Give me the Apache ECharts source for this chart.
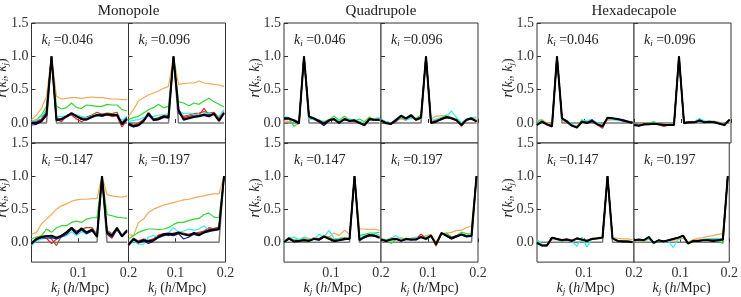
<!DOCTYPE html>
<html>
<head>
<meta charset="UTF-8" />
<title>r(ki,kj) multipoles</title>
<style>
  body { margin: 0; background: #fff; }
  #chart { width: 741px; height: 297px; }
</style>
</head>
<body>
<div id="chart"></div>
<script src="https://cdn.jsdelivr.net/npm/echarts@6/dist/echarts.min.js"></script>
<script>
// k_j bins (h/Mpc)
const kj = [0.006, 0.016, 0.026, 0.036, 0.046, 0.056, 0.066, 0.076, 0.086, 0.096,
            0.106, 0.116, 0.127, 0.137, 0.147, 0.157, 0.167, 0.177, 0.187, 0.197];
const kiLabels = ['0.046', '0.096', '0.147', '0.197'];
const groupNames = ['Monopole', 'Quadrupole', 'Hexadecapole'];
const xTicks = [0.1, 0.2];
const yTicks = [0, 0.5, 1, 1.5];

// ideal (diagonal) correlation
const delta = [
  [0,0,0,0,1,0,0,0,0,0,0,0,0,0,0,0,0,0,0,0],
  [0,0,0,0,0,0,0,0,0,1,0,0,0,0,0,0,0,0,0,0],
  [0,0,0,0,0,0,0,0,0,0,0,0,0,0,1,0,0,0,0,0],
  [0,0,0,0,0,0,0,0,0,0,0,0,0,0,0,0,0,0,0,1]
];

// ---- Monopole ----
const monoOrange = [
  [0.05,0.12,0.22,0.40,1.00,0.40,0.36,0.37,0.38,0.38,0.37,0.38,0.39,0.38,0.38,0.37,0.36,0.36,0.35,0.35],
  [0.10,0.20,0.33,0.38,0.42,0.45,0.48,0.52,0.55,1.00,0.58,0.59,0.60,0.60,0.63,0.60,0.59,0.58,0.57,0.55],
  [0.12,0.15,0.28,0.35,0.42,0.50,0.55,0.58,0.62,0.64,0.65,0.65,0.66,0.66,1.00,0.72,0.70,0.69,0.68,0.70],
  [0.12,0.10,0.30,0.35,0.45,0.50,0.53,0.56,0.58,0.60,0.62,0.64,0.65,0.67,0.69,0.70,0.72,0.73,0.73,1.00]
];
const monoGreen = [
  [0.02,0.05,0.12,0.25,1.00,0.25,0.21,0.23,0.30,0.23,0.22,0.27,0.26,0.25,0.25,0.28,0.27,0.27,0.20,0.18],
  [0.05,0.08,0.10,0.15,0.20,0.23,0.28,0.23,0.25,1.00,0.32,0.30,0.26,0.30,0.28,0.33,0.37,0.32,0.28,0.24],
  [0.05,0.08,0.10,0.20,0.15,0.22,0.25,0.25,0.30,0.32,0.30,0.35,0.37,0.37,1.00,0.42,0.40,0.38,0.37,0.36],
  [0.05,0.10,0.15,0.18,0.20,0.20,0.19,0.20,0.22,0.27,0.30,0.30,0.33,0.35,0.36,0.42,0.44,0.38,0.37,1.00]
];
const monoBrown = [
  [0.02,0.03,0.06,0.20,1.00,0.08,0.05,0.11,0.14,0.12,0.08,0.09,0.12,0.16,0.13,0.15,0.14,0.16,0.00,0.08],
  [0.00,-0.03,0.00,0.05,0.12,0.06,0.08,0.11,0.11,1.00,0.17,0.10,0.12,0.14,0.15,0.17,0.15,0.16,0.08,0.17],
  [0.00,0.06,0.09,0.10,0.05,-0.05,0.10,0.16,0.22,0.17,0.20,0.22,0.22,0.12,1.00,0.18,0.13,0.21,0.11,0.19],
  [-0.02,0.06,0.02,0.05,0.03,0.05,0.11,0.13,0.14,0.13,0.15,0.14,0.12,0.14,0.13,0.17,0.20,0.21,0.23,1.00]
];
const monoRed = [
  [0.00,0.02,0.05,0.18,1.00,0.06,0.02,0.10,0.12,0.06,0.02,0.06,0.10,0.12,0.10,0.12,0.10,0.10,-0.06,0.05],
  [-0.02,-0.04,-0.02,0.05,0.12,0.04,0.05,0.10,0.10,1.00,0.15,0.08,0.10,0.12,0.12,0.22,0.12,0.15,0.06,0.16],
  [-0.03,0.04,0.08,0.06,-0.02,0.05,0.10,0.14,0.20,0.14,0.18,0.14,0.20,0.10,1.00,0.12,0.06,0.20,0.10,0.16],
  [-0.03,0.04,0.01,0.04,0.02,0.05,0.10,0.12,0.10,0.14,0.14,0.12,0.12,0.13,0.15,0.17,0.22,0.20,0.22,1.00]
];
const monoCyan = [
  [0.03,0.04,0.10,0.18,1.00,0.10,0.10,0.11,0.13,0.12,0.10,0.07,0.11,0.10,0.12,0.13,0.12,0.10,0.04,0.10],
  [0.02,0.04,0.05,0.08,0.10,0.10,0.12,0.12,0.14,1.00,0.18,0.14,0.15,0.13,0.12,0.14,0.15,0.12,0.10,0.20],
  [-0.05,0.02,0.05,0.06,0.08,0.05,0.08,0.10,0.16,0.10,0.16,0.12,0.17,0.12,1.00,0.14,0.12,0.18,0.12,0.15],
  [-0.05,0.02,-0.03,-0.03,0.08,0.10,0.08,0.10,0.14,0.22,0.15,0.17,0.20,0.18,0.20,0.25,0.18,0.17,0.20,1.00]
];
const monoBlue = [
  [-0.03,-0.02,0.02,0.15,1.00,0.04,0.05,0.09,0.13,0.11,0.06,0.06,0.10,0.12,0.13,0.13,0.12,0.12,0.00,0.08],
  [-0.03,-0.06,-0.04,0.02,0.12,0.04,0.05,0.08,0.08,1.00,0.16,0.06,0.08,0.10,0.11,0.13,0.12,0.13,0.04,0.14],
  [-0.03,0.04,0.07,0.06,0.07,0.05,0.08,0.12,0.20,0.12,0.19,0.13,0.17,0.10,1.00,0.13,0.08,0.19,0.08,0.16],
  [-0.05,0.04,-0.01,0.02,-0.02,0.02,0.07,0.10,0.11,0.10,0.13,0.05,0.08,0.12,0.10,0.14,0.16,0.18,0.19,1.00]
];
const monoBlack = [
  [0.00,0.00,0.03,0.12,1.00,0.04,0.06,0.10,0.15,0.10,0.06,0.05,0.09,0.12,0.11,0.13,0.12,0.12,-0.02,0.06],
  [-0.01,-0.05,-0.03,0.03,0.15,0.05,0.06,0.10,0.08,1.00,0.20,0.05,0.07,0.09,0.10,0.12,0.10,0.14,0.03,0.15],
  [-0.02,0.05,0.08,0.09,0.10,0.07,0.10,0.15,0.22,0.14,0.21,0.15,0.19,0.08,1.00,0.15,0.10,0.22,0.09,0.18],
  [-0.04,0.05,0.00,0.03,0.01,0.03,0.08,0.12,0.13,0.12,0.15,0.12,0.10,0.14,0.11,0.15,0.18,0.19,0.20,1.00]
];

// ---- Quadrupole ----
const quadOrange = [
  [0.03,0.02,0.05,0.02,1.00,0.06,0.05,0.02,0.02,0.03,0.05,0.02,0.04,0.06,0.03,0.02,0.00,0.04,0.06,0.03],
  [0.02,0.02,0.00,0.04,0.06,0.04,0.08,0.05,0.06,1.00,0.06,0.10,0.11,0.10,0.06,0.06,0.00,0.05,0.08,0.06],
  [0.02,0.04,0.04,0.02,0.06,0.04,0.07,0.06,0.08,0.08,0.14,0.10,0.18,0.12,1.00,0.20,0.20,0.19,0.20,0.18],
  [0.03,0.03,0.07,0.05,0.07,0.04,0.06,0.08,0.06,0.10,0.12,0.00,0.12,0.14,0.15,0.18,0.18,0.22,0.25,1.00]
];
const quadGreen = [
  [0.05,0.06,-0.05,0.00,1.00,0.08,0.06,0.04,0.02,0.05,0.10,0.04,0.10,0.04,0.03,0.06,0.02,0.09,0.04,0.07],
  [0.03,0.02,0.00,0.04,0.08,0.05,0.10,0.07,0.12,1.00,0.02,0.04,0.08,0.12,0.08,0.06,0.00,0.06,0.05,0.04],
  [0.02,0.07,0.03,0.04,0.05,0.00,0.06,0.05,0.10,0.08,0.04,0.06,0.07,0.06,1.00,0.10,0.12,0.14,0.14,0.15],
  [0.05,0.04,-0.02,0.04,0.04,0.06,0.03,0.05,0.07,0.04,0.09,-0.02,0.12,0.14,0.08,0.10,0.15,0.13,0.12,1.00]
];
const quadBrown = [
  [0.06,0.07,0.04,0.01,1.00,0.10,0.07,0.03,0.00,0.05,0.06,0.01,0.06,0.04,0.04,0.01,-0.02,0.06,0.05,0.05],
  [0.04,0.01,-0.01,0.03,0.10,0.06,0.11,0.06,0.09,1.00,0.01,0.04,0.07,0.09,0.08,0.05,-0.05,0.05,0.07,0.03],
  [0.01,0.06,0.02,0.03,0.04,0.03,0.06,0.05,0.09,0.06,0.03,0.04,0.06,0.06,1.00,0.05,0.09,0.12,0.11,0.08],
  [0.05,0.03,0.05,0.06,0.03,0.05,0.05,0.05,0.08,0.06,0.11,-0.06,0.13,0.11,0.07,0.10,0.12,0.10,0.11,1.00]
];
const quadRed = [
  [0.05,0.06,0.04,-0.01,1.00,0.08,0.06,0.01,-0.02,0.04,0.05,0.01,0.06,0.03,0.02,0.00,-0.04,0.05,0.04,0.04],
  [0.03,-0.01,-0.02,0.02,0.09,0.05,0.10,0.04,0.07,1.00,0.01,0.03,0.05,0.08,0.07,0.04,-0.04,0.04,0.06,0.02],
  [0.01,0.05,0.01,0.02,0.03,0.03,0.05,0.04,0.08,0.06,0.03,0.03,0.05,0.06,1.00,0.05,0.07,0.10,0.11,0.08],
  [0.04,0.02,0.05,0.05,0.03,0.05,0.04,0.05,0.12,0.06,0.10,-0.03,0.13,0.10,0.05,0.09,0.11,0.09,0.11,1.00]
];
const quadCyan = [
  [0.10,0.08,0.02,0.02,1.00,0.06,0.05,0.05,0.00,0.05,0.06,0.04,0.05,0.06,0.05,0.02,0.00,0.04,0.06,0.09],
  [0.06,0.02,0.00,0.03,0.09,0.05,0.07,0.06,0.06,1.00,0.04,0.06,0.08,0.10,0.18,0.08,0.00,0.06,0.08,0.09],
  [-0.02,0.06,0.08,0.04,0.08,0.06,0.04,0.12,0.08,0.18,0.06,0.05,0.04,0.06,1.00,0.06,0.10,0.12,0.14,0.10],
  [0.04,0.03,0.06,0.10,0.04,0.06,0.05,0.07,0.06,0.08,0.10,-0.02,0.13,0.11,0.05,0.10,0.12,0.10,0.12,1.00]
];
const quadBlue = [
  [0.06,0.06,0.03,-0.01,1.00,0.09,0.06,0.02,-0.04,0.03,0.06,0.00,0.05,0.03,0.04,0.00,-0.03,0.05,0.05,0.04],
  [0.04,0.00,-0.02,0.03,0.10,0.06,0.11,0.05,0.08,1.00,0.00,0.02,0.06,0.08,0.07,0.04,-0.03,0.05,0.06,0.03],
  [0.00,0.05,0.01,0.02,0.03,0.02,0.05,0.03,0.08,0.05,0.01,0.03,0.04,0.05,1.00,0.04,0.07,0.10,0.09,0.06],
  [0.04,0.02,0.04,0.05,0.02,0.04,0.04,0.04,0.08,0.05,0.10,-0.03,0.14,0.09,0.05,0.08,0.11,0.08,0.09,1.00]
];
const quadBlack = [
  [0.07,0.07,0.04,0.00,1.00,0.10,0.07,0.03,-0.01,0.04,0.06,0.00,0.06,0.03,0.04,0.00,-0.03,0.06,0.05,0.05],
  [0.04,0.00,-0.01,0.05,0.11,0.07,0.12,0.05,0.08,1.00,0.00,0.02,0.06,0.09,0.07,0.04,-0.03,0.05,0.07,0.02],
  [0.00,0.06,0.01,0.02,0.03,0.02,0.05,0.04,0.09,0.05,0.02,0.03,0.05,0.05,1.00,0.03,0.08,0.11,0.10,0.07],
  [0.04,0.02,0.04,0.05,0.02,0.05,0.04,0.04,0.08,0.05,0.10,-0.03,0.14,0.10,0.06,0.09,0.12,0.09,0.10,1.00]
];

// ---- Hexadecapole ----
const hexOrange = [
  [0.04,0.05,0.00,-0.03,1.00,0.05,0.00,-0.03,-0.04,0.00,0.01,0.02,-0.01,-0.03,0.04,0.05,0.05,0.04,0.03,0.02],
  [-0.02,-0.02,-0.01,0.00,0.00,-0.01,-0.02,-0.01,-0.02,1.00,0.01,0.02,0.02,0.03,0.02,0.02,0.03,0.01,-0.01,0.04],
  [0.01,-0.03,-0.04,0.04,0.04,0.02,0.03,0.02,0.05,0.03,0.03,0.06,0.07,0.08,1.00,0.07,0.06,0.05,0.05,0.04],
  [0.02,0.02,0.01,0.05,0.00,0.02,0.00,0.02,0.03,0.04,0.06,0.00,0.04,0.06,0.07,0.09,0.10,0.12,0.13,1.00]
];
const hexGreen = [
  [0.02,0.04,-0.02,-0.04,1.00,0.06,0.01,-0.04,-0.05,0.05,0.01,0.04,-0.01,-0.04,0.07,0.06,0.06,0.03,0.02,0.01],
  [-0.03,-0.03,-0.02,0.00,0.02,-0.02,-0.03,-0.02,-0.03,1.00,0.00,0.02,0.01,0.05,0.02,0.01,0.02,0.00,-0.03,0.04],
  [0.03,-0.04,-0.04,0.06,0.05,0.02,0.05,0.02,0.05,0.05,0.00,0.05,0.05,0.06,1.00,0.05,0.03,0.02,0.01,0.01],
  [0.02,0.03,0.02,0.06,-0.02,0.03,0.01,0.02,0.06,0.06,0.09,-0.01,0.02,0.03,0.04,0.05,0.03,0.02,-0.02,1.00]
];
const hexBrown = [
  [-0.02,0.02,-0.02,-0.04,1.00,0.06,0.02,-0.03,-0.06,0.03,0.01,0.03,-0.02,-0.04,0.07,0.06,0.05,0.04,0.02,0.01],
  [-0.02,-0.03,-0.02,-0.01,0.00,-0.02,-0.02,-0.02,-0.02,1.00,0.01,0.02,0.02,0.04,0.02,0.02,0.02,0.00,-0.02,0.05],
  [0.00,-0.04,-0.04,0.06,0.05,0.03,0.04,0.03,0.05,0.04,0.03,0.05,0.06,0.06,1.00,0.06,0.03,0.02,0.02,0.01],
  [0.03,0.03,0.03,0.07,0.00,0.03,0.02,0.03,0.05,0.06,0.09,-0.01,0.03,0.03,0.04,0.04,0.04,0.05,0.06,1.00]
];
const hexRed = [
  [-0.03,0.01,-0.03,-0.06,1.00,0.06,0.01,-0.05,-0.06,0.02,0.00,0.02,-0.03,-0.08,0.07,0.06,0.05,0.03,0.02,0.00],
  [-0.03,-0.04,-0.03,-0.02,-0.01,-0.03,-0.05,-0.03,-0.03,1.00,-0.01,0.00,0.01,0.03,0.01,0.02,0.01,-0.01,-0.03,0.04],
  [-0.01,-0.05,-0.05,0.07,0.05,0.04,0.05,0.03,0.06,0.04,0.01,0.05,0.06,0.07,1.00,0.06,0.02,0.01,0.01,0.00],
  [0.03,0.04,0.03,0.07,-0.01,0.03,0.01,0.03,0.05,0.06,0.10,-0.02,0.02,0.02,0.03,0.03,0.02,0.03,0.04,1.00]
];
const hexCyan = [
  [0.03,0.03,-0.03,-0.05,1.00,0.05,0.04,-0.02,-0.06,0.03,0.04,0.05,0.00,-0.03,0.06,0.05,0.04,0.03,0.02,0.01],
  [-0.02,-0.03,-0.02,-0.01,0.00,-0.01,-0.02,-0.02,-0.02,1.00,0.01,0.01,0.02,0.07,0.03,0.03,0.02,0.00,-0.02,0.05],
  [0.04,-0.03,-0.05,0.06,0.04,0.02,0.03,0.01,-0.06,0.08,-0.07,0.05,0.06,0.07,1.00,0.05,0.02,0.01,0.01,0.00],
  [0.02,0.03,0.02,0.06,-0.02,0.02,0.00,0.02,-0.08,0.05,0.09,-0.01,0.02,0.02,0.04,0.05,0.06,0.06,0.04,1.00]
];
const hexBlue = [
  [-0.03,0.02,-0.02,-0.05,1.00,0.07,0.03,-0.04,-0.07,0.02,0.00,0.05,-0.02,-0.05,0.08,0.07,0.06,0.05,0.03,0.01],
  [-0.03,-0.04,-0.02,-0.02,-0.01,-0.02,-0.03,-0.03,-0.03,1.00,0.00,0.01,0.01,0.04,0.01,0.02,0.01,-0.01,-0.03,0.05],
  [-0.01,-0.05,-0.05,0.07,0.05,0.03,0.04,0.02,0.06,0.04,0.02,0.05,0.06,0.07,1.00,0.06,0.02,0.01,0.01,0.00],
  [0.03,0.04,0.03,0.08,-0.01,0.03,0.01,0.03,0.05,0.07,0.10,-0.02,0.02,0.02,0.03,0.03,0.02,0.03,0.04,1.00]
];
const hexBlack = [
  [-0.03,0.02,-0.02,-0.05,1.00,0.07,0.02,-0.04,-0.07,0.02,0.00,0.03,-0.02,-0.05,0.08,0.07,0.06,0.04,0.02,0.00],
  [-0.03,-0.04,-0.02,-0.02,-0.01,-0.02,-0.03,-0.03,-0.03,1.00,0.00,0.01,0.01,0.04,0.01,0.02,0.01,-0.01,-0.03,0.05],
  [-0.01,-0.05,-0.05,0.07,0.05,0.03,0.04,0.02,0.06,0.04,0.02,0.05,0.06,0.07,1.00,0.06,0.02,0.01,0.01,0.00],
  [0.03,0.04,0.03,0.08,-0.01,0.03,0.01,0.03,0.05,0.07,0.10,-0.02,0.02,0.02,0.03,0.03,0.02,0.03,0.04,1.00]
];

const groupData = [
  [monoOrange, monoGreen, monoBrown, monoRed, monoCyan, monoBlue, monoBlack],
  [quadOrange, quadGreen, quadBrown, quadRed, quadCyan, quadBlue, quadBlack],
  [hexOrange, hexGreen, hexBrown, hexRed, hexCyan, hexBlue, hexBlack]
];
const lineColors = ['#f5a858', '#33d633', '#a0522d', '#e02424', '#33eef0', '#10109a', '#000000'];
const lineWidths = [1.2, 1.2, 1.2, 1.2, 1.2, 1.2, 2];

const FONT = '"Liberation Serif", "DejaVu Serif", serif';
const groupLeft = [31.5, 284, 537];
const panelW = 97, panelH = 120, topY = 23;

const chart = echarts.init(document.getElementById('chart'));

const grids = [], xAxes = [], yAxes = [], series = [], titles = [], texts = [];
const richText = {
  it: { fontFamily: FONT, fontStyle: 'italic', fontSize: 14, color: '#222', lineHeight: 16 },
  n: { fontFamily: FONT, fontSize: 14, color: '#222', lineHeight: 16 },
  sub: { fontFamily: FONT, fontStyle: 'italic', fontSize: 9, color: '#222', lineHeight: 9, verticalAlign: 'bottom' }
};
const yName = '{it|r}{n|(}{it|k}{sub|i}{n|, }{it|k}{sub|j}{n|)}';

groupNames.forEach((gname, g) => {
  texts.push({
    type: 'text', x: groupLeft[g] + panelW, y: 4,
    style: { text: gname, textAlign: 'center', textVerticalAlign: 'top',
             font: '15px ' + FONT, fill: '#222' }
  });
  for (let p = 0; p < 4; p++) {
    const col = p % 2, row = Math.floor(p / 2);
    const idx = grids.length;
    const left = groupLeft[g] + col * panelW;
    const top = topY + row * panelH;
    grids.push({
      left: left, top: top, width: panelW, height: panelH,
      show: true, borderColor: '#333', borderWidth: 1, backgroundColor: '#fff'
    });
    xAxes.push({
      type: 'value', gridIndex: idx, min: 0.006, max: 0.2,
      splitLine: { show: false },
      axisLine: { show: false },
      axisTick: { show: true, inside: true, length: 4, customValues: xTicks, lineStyle: { color: '#333' } },
      axisLabel: {
        show: row === 1, customValues: xTicks, margin: 4,
        formatter: v => v.toFixed(1), fontFamily: FONT, fontSize: 14, color: '#333'
      },
      name: row === 1 ? '{it|k}{sub|j} ({it|h}{n|/Mpc)}' : '',
      nameLocation: 'middle', nameGap: 17,
      nameTextStyle: { rich: richText, fontFamily: FONT, fontSize: 14, color: '#222' }
    });
    yAxes.push({
      type: 'value', gridIndex: idx, min: -0.3, max: 1.5,
      splitLine: { show: false },
      axisLine: { show: false },
      axisTick: { show: true, inside: true, length: 4, customValues: yTicks, lineStyle: { color: '#333' } },
      axisLabel: {
        show: col === 0, customValues: yTicks, margin: 3,
        formatter: v => v.toFixed(1), fontFamily: FONT, fontSize: 14, color: '#333'
      }
    });
    if (col === 0) {
      // rotated y-axis title, placed left of the tick labels
      texts.push({
        type: 'text', x: left - 29, y: top + 55, rotation: Math.PI / 2,
        style: { text: yName, rich: richText, textAlign: 'center', textVerticalAlign: 'middle',
                 font: '14px ' + FONT, fill: '#222' }
      });
    }
    titles.push({
      text: '{it|k}{sub|i}{n| =' + kiLabels[p] + '}',
      left: left + 5, top: top + 4,
      textStyle: { rich: richText, fontFamily: FONT, fontSize: 14, fontWeight: 'normal' }
    });
    // reference delta line
    series.push({
      type: 'line', xAxisIndex: idx, yAxisIndex: idx, showSymbol: false, silent: true,
      data: kj.map((k, i) => [k, delta[p][i]]),
      lineStyle: { color: '#7a7a7a', width: 1.5 }
    });
    groupData[g].forEach((arr, c) => {
      series.push({
        type: 'line', xAxisIndex: idx, yAxisIndex: idx, showSymbol: false, silent: true,
        data: kj.map((k, i) => [k, arr[p][i]]),
        lineStyle: { color: lineColors[c], width: lineWidths[c] }
      });
    });
  }
});

chart.setOption({
  animation: false,
  backgroundColor: '#fff',
  title: titles,
  grid: grids,
  xAxis: xAxes,
  yAxis: yAxes,
  graphic: texts,
  series: series
});
</script>
</body>
</html>
